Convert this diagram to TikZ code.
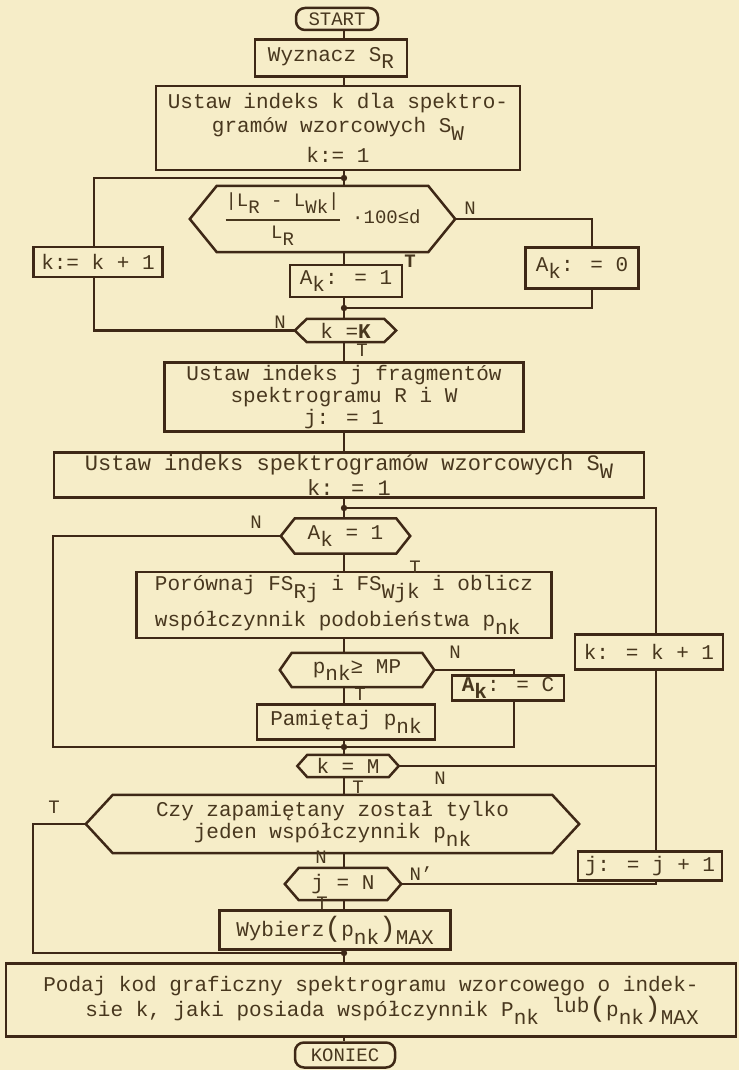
\documentclass[tikz,border=0pt]{standalone}
\usepackage{fontspec}
\setmainfont{Liberation Mono}
\usetikzlibrary{calc}
\definecolor{paper}{RGB}{246,237,200}
\definecolor{ink}{RGB}{62,40,22}
\definecolor{txt}{RGB}{72,55,30}
\newcommand\sbs[1]{\raisebox{-0.7ex}{#1}}
\newcommand\bigpar[1]{{\fontsize{28}{28}\selectfont #1}}
\newcommand\hexa[2]{%
  \draw[ln] (#1.north west) -- (#1.north east) -- ([xshift=#2]#1.east) coordinate (#1-r)
   -- (#1.south east) -- (#1.south west) -- ([xshift=-#2]#1.west) coordinate (#1-l) -- cycle;}
\begin{document}
\begin{tikzpicture}[x=1pt,y=-1pt,
  ln/.style={draw=ink,line width=2.5pt},
  wh/.style 2 args={minimum width=#1pt,minimum height=#2pt},
  box/.style={draw=ink,line width=2.5pt,rectangle,inner sep=1.5pt,text=txt,align=center,
     font=\fontsize{21}{24}\selectfont},
  hx/.style={rectangle,inner sep=1pt,text=txt,align=center,font=\fontsize{21}{24}\selectfont},
  term/.style={box,rounded corners=9pt,font=\fontsize{19}{20}\selectfont},
  lbl/.style={text=txt,inner sep=0pt,font=\fontsize{19}{20}\selectfont}]
\fill[paper] (0,0) rectangle (739,1070);
\useasboundingbox (0,0) rectangle (739,1070);

% axis and routing coordinates
\coordinate (ax) at (344,0);
\coordinate (lx1) at (94,0);
\coordinate (lx2) at (53,0);
\coordinate (lx3) at (33,0);
\coordinate (rx1) at (592,0);
\coordinate (rx2) at (656,0);
\coordinate (rx3) at (514,0);
\coordinate (j1) at (344,178);
\coordinate (j2) at (344,308);
\coordinate (j3) at (344,508);
\coordinate (j4) at (344,747);
\coordinate (j5) at (344,953);

% nodes
\node[term,wh={82}{22}] (start) at (337,19) {START};
\node[box,wh={152}{37}] (wyz) at (331,58) {Wyznacz S\sbs{R}};
\node[box,wh={364}{84}] (ustk) at (338,128) {Ustaw indeks k dla spektro-\\gramów wzorcowych S\sbs{W}\\[6pt]k:= 1};
\node[hx,wh={211}{66}] (d1) at (322.5,219)
  {{\fontsize{19}{21}\selectfont $\displaystyle{\hbox{|L\sbs{R} - L\sbs{Wk}|}\above 1.8pt\hbox{L\sbs{R}}}$\ ·100≤d}};
\hexa{d1}{27pt}
\node[box,wh={112}{32}] (ak1) at (346,281) {A\sbs{k}: = 1};
\node[box,wh={113}{41}] (ak0) at (582,268) {A\sbs{k}: = 0};
\node[box,wh={129}{30}] (kk1) at (98,262) {k:= k + 1};
\node[hx,wh={77}{23}] (kK) at (345.5,330.5) {k =\textbf{K}};
\hexa{kK}{12pt}
\node[box,wh={359}{69},font=\fontsize{21}{22}\selectfont] (ustj) at (344,397) {Ustaw indeks j fragmentów\\spektrogramu R i W\\j: = 1};
\node[box,wh={590}{45},font=\fontsize{22}{22}\selectfont] (ustk2) at (349,475) {Ustaw indeks spektrogramów wzorcowych S\sbs{W}\\k: = 1};
\node[hx,wh={101}{35}] (dA) at (345.5,536) {A\sbs{k} = 1};
\hexa{dA}{14pt}
\node[box,wh={415}{66},align=left] (por) at (344,605) {Porównaj FS\sbs{Rj} i FS\sbs{Wjk} i oblicz\\[8pt]współczynnik podobieństwa p\sbs{nk}};
\node[hx,wh={130}{34}] (dp) at (357,670) {p\sbs{nk}≥ MP};
\hexa{dp}{12pt}
\node[box,wh={112}{25}] (akC) at (508,688) {\textbf{A\sbs{k}}: = C};
\node[box,wh={178}{35}] (pam) at (346,722) {Pamiętaj p\sbs{nk}};
\node[hx,wh={81}{22}] (kM) at (348,766) {k = M};
\hexa{kM}{10pt}
\node[box,wh={148}{35}] (kk2) at (649,652) {k: = k + 1};
\node[hx,wh={439}{58},font=\fontsize{21}{22}\selectfont] (czy) at (332.5,824) {Czy zapamiętany został tylko\\jeden współczynnik p\sbs{nk}};
\hexa{czy}{27pt}
\node[box,wh={144}{29}] (jj1) at (650,866) {j: = j + 1};
\node[hx,wh={88}{32}] (djN) at (343,884) {j = N};
\hexa{djN}{14pt}
\node[box,wh={231}{39}] (wyb) at (335,930) {Wybierz\bigpar{(}p\sbs{nk}\bigpar{)}\sbs{MAX}};
\node[box,wh={730}{73},align=right,font=\fontsize{21}{25}\selectfont] (podaj) at (371,1000) {Podaj kod graficzny spektrogramu wzorcowego o indek-\\sie k, jaki posiada współczynnik P\sbs{nk} \raisebox{0.3ex}{lub}\bigpar{(}p\sbs{nk}\bigpar{)}\sbs{MAX}};
\node[term,wh={100}{25}] (koniec) at (345,1055) {KONIEC};

% connectors
\draw[ln] (start.south -| ax) -- (wyz.north -| ax);
\draw[ln] (wyz.south -| ax) -- (ustk.north -| ax);
\draw[ln] (ustk.south -| ax) -- (j1) -- (d1.north -| ax);
\draw[ln] (j1) -| (kk1.north -| lx1);
\draw[ln] (d1.south -| ax) -- (ak1.north -| ax);
\draw[ln] (d1-r) -| (ak0.north -| rx1);
\draw[ln] (ak1.south -| ax) -- (j2) -- (kK.north -| ax);
\draw[ln] (ak0.south -| rx1) |- (j2);
\draw[ln] (kK-l) -| (kk1.south -| lx1);
\draw[ln] (kK.south -| ax) -- (ustj.north -| ax);
\draw[ln] (ustj.south -| ax) -- (ustk2.north -| ax);
\draw[ln] (ustk2.south -| ax) -- (j3) -- (dA.north -| ax);
\draw[ln] (j3) -| (kk2.north -| rx2);
\draw[ln] (dA-l) -| (lx2 |- j4) -- (j4);
\draw[ln] (dA.south -| ax) -- (por.north -| ax);
\draw[ln] (por.south -| ax) -- (dp.north -| ax);
\draw[ln] (dp-r) -| (akC.north -| rx3);
\draw[ln] (akC.south -| rx3) |- (j4);
\draw[ln] (dp.south -| ax) -- (pam.north -| ax);
\draw[ln] (pam.south -| ax) -- (j4) -- (kM.north -| ax);
\draw[ln] (kM-r) -- (kM-r -| rx2);
\draw[ln] (kk2.south -| rx2) -- (jj1.north -| rx2);
\draw[ln] (kM.south -| ax) -- (czy.north -| ax);
\draw[ln] (czy-l) -| (lx3 |- j5) -- (j5);
\draw[ln] (czy.south -| ax) -- (djN.north -| ax);
\draw[ln] (djN-r) -| (jj1.south -| rx2);
\draw[ln] (djN.south -| ax) -- (wyb.north -| ax);
\draw[ln] (wyb.south -| ax) -- (j5) -- (podaj.north -| ax);
\draw[ln] (podaj.south -| ax) -- (koniec.north -| ax);
\foreach \p in {j1,j2,j3,j4,j5} \fill[ink] (\p) circle (3.2pt);

% labels
\node[lbl] (l1) at (470,208) {N};
\node[lbl,font=\fontsize{19}{20}\bfseries] (l2) at (410,261) {T};
\node[lbl] (l3) at (280,322) {N};
\node[lbl] (l4) at (362,350) {T};
\node[lbl] (l5) at (256,522) {N};
\node[lbl] (l6) at (415,567) {T};
\node[lbl] (l7) at (455,652) {N};
\node[lbl] (l8) at (360,694) {T};
\node[lbl] (l9) at (440,778) {N};
\node[lbl] (l10) at (358,787) {T};
\node[lbl] (l11) at (54,807) {T};
\node[lbl] (l12) at (321,857) {N};
\node[lbl] (l13) at (421,874) {N'};
\node[lbl] (l14) at (322,903) {T};
\end{tikzpicture}
\end{document}
